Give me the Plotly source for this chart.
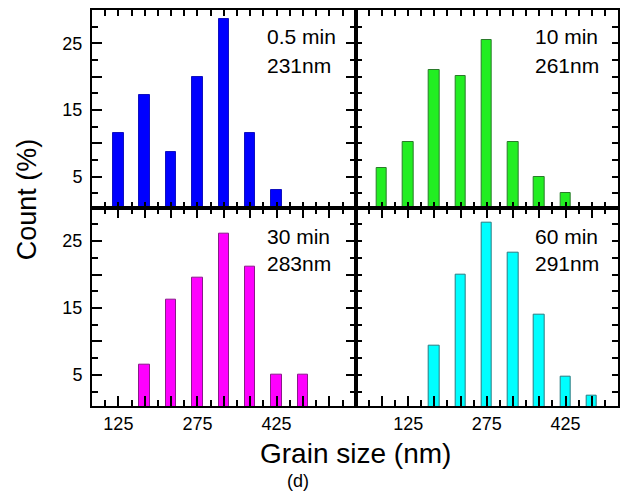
import plotly.graph_objects as go
from plotly.subplots import make_subplots

# ---- data ----
x_05 = [125, 175, 225, 275, 325, 375, 425]
y_05 = [11.6, 17.2, 8.7, 20.0, 28.6, 11.6, 3.0]
x_10 = [75, 125, 175, 225, 275, 325, 375, 425]
y_10 = [6.3, 10.2, 21.0, 20.1, 25.5, 10.2, 4.9, 2.5]
x_30 = [175, 225, 275, 325, 375, 425, 475]
y_30 = [6.6, 16.3, 19.6, 26.1, 21.2, 5.0, 5.0]
x_60 = [175, 225, 275, 325, 375, 425, 475]
y_60 = [9.4, 20.0, 27.7, 23.2, 14.0, 4.8, 1.9]

labels_time = ["0.5 min", "10 min", "30 min", "60 min"]
labels_size = ["231nm", "261nm", "283nm", "291nm"]
x_tick_labels = [125, 275, 425]
y_tick_labels = [5, 15, 25]

FONT = "Liberation Sans, Arial, sans-serif"

fig = make_subplots(rows=2, cols=2, horizontal_spacing=0, vertical_spacing=0)

panels = [
    (x_05, y_05, "#0000ff", "#1010c0", 1, 1),
    (x_10, y_10, "#22ee22", "#2a7a2a", 1, 2),
    (x_30, y_30, "#ff00ff", "#8a1a8a", 2, 1),
    (x_60, y_60, "#00ffff", "#2a7a80", 2, 2),
]
for xs, ys, fc, lc, r, c in panels:
    fig.add_trace(go.Bar(x=xs, y=ys, width=20, marker=dict(color=fc, line=dict(color=lc, width=1)),
                         showlegend=False), row=r, col=c)

xd_left = [0, 0.5013]
xd_right = [0.5013, 1]
yd_top = [0.5008, 1]
yd_bot = [0, 0.5008]

common_axis = dict(showline=True, linewidth=2, linecolor="black", mirror="allticks",
                   ticks="inside", ticklen=10, tickwidth=2, tickcolor="black",
                   showgrid=False, zeroline=False,
                   tickfont=dict(family=FONT, size=18, color="black"))

def xaxis_cfg(rng, labels):
    vals = list(range(rng[0], rng[1] + 1, 50))
    text = [str(v) if (labels and v in x_tick_labels) else "" for v in vals]
    d = dict(common_axis)
    d.update(range=rng, tickmode="array", tickvals=vals, ticktext=text,
             minor=dict(ticks="inside", ticklen=6, tickwidth=2, tickcolor="black", dtick=25, tick0=0),
             showticklabels=labels)
    return d

def yaxis_cfg(labels):
    vals = [5, 10, 15, 20, 25, 30]
    text = [str(v) if (labels and v in y_tick_labels) else "" for v in vals]
    d = dict(common_axis)
    d.update(range=[0.35, 30], tickmode="array", tickvals=vals, ticktext=text,
             minor=dict(ticks="inside", ticklen=6, tickwidth=2, tickcolor="black", dtick=2.5, tick0=0),
             showticklabels=labels, ticklabelstandoff=4)
    return d

fig.update_layout(
    xaxis=dict(xaxis_cfg([75, 575], False), domain=xd_left),
    xaxis2=dict(xaxis_cfg([25, 525], False), domain=xd_right),
    xaxis3=dict(xaxis_cfg([75, 575], True), domain=xd_left),
    xaxis4=dict(xaxis_cfg([25, 525], True), domain=xd_right),
    yaxis=dict(yaxis_cfg(True), domain=yd_top),
    yaxis2=dict(yaxis_cfg(False), domain=yd_top),
    yaxis3=dict(yaxis_cfg(True), domain=yd_bot),
    yaxis4=dict(yaxis_cfg(False), domain=yd_bot),
)

# panel annotations
ann_pos = [
    ("x domain", "y domain", 0.657, 0.868, 0.717),
    ("x2 domain", "y2 domain", 0.677, 0.868, 0.717),
    ("x3 domain", "y3 domain", 0.657, 0.857, 0.721),
    ("x4 domain", "y4 domain", 0.677, 0.857, 0.721),
]
for (xr, yr, ax, ay1, ay2), t1, t2 in zip(ann_pos, labels_time, labels_size):
    for ay, t in ((ay1, t1), (ay2, t2)):
        fig.add_annotation(xref=xr, yref=yr, x=ax, y=ay, text=t, showarrow=False,
                           xanchor="left", yanchor="middle",
                           font=dict(family=FONT, size=21, color="black"))

fig.add_annotation(xref="paper", yref="paper", x=(27 - 92) / 528, y=(406 - 199) / 396,
                   text="Count (%)", textangle=-90, showarrow=False,
                   xanchor="center", yanchor="middle",
                   font=dict(family=FONT, size=27, color="black"))
fig.add_annotation(xref="paper", yref="paper", x=(356 - 92) / 528, y=(406 - 453) / 396,
                   text="Grain size (nm)", showarrow=False,
                   xanchor="center", yanchor="middle",
                   font=dict(family=FONT, size=28, color="black"))
fig.add_annotation(xref="paper", yref="paper", x=(299 - 92) / 528, y=(406 - 481) / 396,
                   text="(d)", showarrow=False,
                   xanchor="center", yanchor="middle",
                   font=dict(family=FONT, size=18, color="black"))

fig.update_layout(width=621, height=501, margin=dict(l=92, r=1, t=10, b=95),
                  plot_bgcolor="white", paper_bgcolor="white", bargap=0)

fig.write_html("out.html", config={"displayModeBar": False},
               post_script="document.body.style.margin='0';document.body.style.overflow='hidden';")
